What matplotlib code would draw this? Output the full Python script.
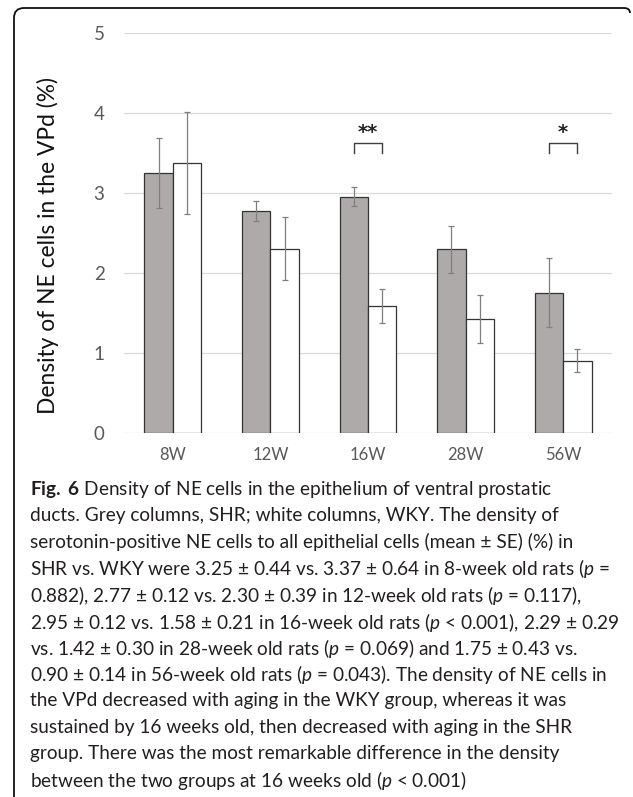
import matplotlib
matplotlib.use('Agg')
import matplotlib.pyplot as plt
from matplotlib import font_manager
from matplotlib.path import Path
from matplotlib.patches import PathPatch
import numpy as np

# data (mean +/- SE, % NE cells)
ages = ["8W", "12W", "16W", "28W", "56W"]
shr_mean = [3.25, 2.77, 2.95, 2.29, 1.75]
shr_se = [0.44, 0.12, 0.12, 0.29, 0.43]
wky_mean = [3.37, 2.30, 1.58, 1.42, 0.90]
wky_se = [0.64, 0.39, 0.21, 0.30, 0.14]
sig_groups = [2, 4]
sig_marks = ["**", "*"]

caption_lines = [
    r"$\mathbf{Fig.}$ $\mathbf{6}$ Density of NE cells in the epithelium of ventral prostatic",
    "ducts. Grey columns, SHR; white columns, WKY. The density of",
    "serotonin-positive NE cells to all epithelial cells (mean ± SE) (%) in",
    r"SHR vs. WKY were 3.25 ± 0.44 vs. 3.37 ± 0.64 in 8-week old rats ($\it{p}$ =",
    r"0.882), 2.77 ± 0.12 vs. 2.30 ± 0.39 in 12-week old rats ($\it{p}$ = 0.117),",
    r"2.95 ± 0.12 vs. 1.58 ± 0.21 in 16-week old rats ($\it{p}$ < 0.001), 2.29 ± 0.29",
    r"vs. 1.42 ± 0.30 in 28-week old rats ($\it{p}$ = 0.069) and 1.75 ± 0.43 vs.",
    r"0.90 ± 0.14 in 56-week old rats ($\it{p}$ = 0.043). The density of NE cells in",
    "the VPd decreased with aging in the WKY group, whereas it was",
    "sustained by 16 weeks old, then decreased with aging in the SHR",
    "group. There was the most remarkable difference in the density",
    r"between the two groups at 16 weeks old ($\it{p}$ < 0.001)",
]

names = {f.name for f in font_manager.fontManager.ttflist}
cap_font = 'Liberation Sans Narrow' if 'Liberation Sans Narrow' in names else 'Lato'
chart_font = 'Lato'

plt.rcParams['mathtext.fontset'] = 'custom'
plt.rcParams['mathtext.rm'] = cap_font
plt.rcParams['mathtext.it'] = cap_font + ':italic'
plt.rcParams['mathtext.bf'] = 'Lato:bold'

W, H = 633, 797
fig = plt.figure(figsize=(W / 100, H / 100), dpi=100)

def fx(px):
    return px / W

def fy(py):
    return 1 - py / H

ax = fig.add_axes([fx(124), fy(432.7), fx(612) - fx(124), fy(32.7) - fy(432.7)])

x = np.arange(len(ages))
w = 0.29
err_kw = dict(ecolor='#7f7f7f', elinewidth=0.9, capsize=2, capthick=0.9)
ax.bar(x - w / 2, shr_mean, w, yerr=shr_se, color='#aeaaaa', edgecolor='#333333',
       linewidth=0.9, error_kw=err_kw, zorder=3)
ax.bar(x + w / 2, wky_mean, w, yerr=wky_se, color='white', edgecolor='#333333',
       linewidth=0.9, error_kw=err_kw, zorder=3)

# significance brackets
for g, m in zip(sig_groups, sig_marks):
    ax.plot([g - w / 2, g - w / 2, g + w / 2, g + w / 2], [3.50, 3.62, 3.62, 3.50],
            color='#404040', linewidth=1.0, zorder=4)
    ax.text(g, 3.63, m, ha='center', va='bottom', fontsize=14, family='DejaVu Sans',
            fontweight='bold', color='#222222')

ax.set_xlim(-0.5, len(ages) - 0.5)
ax.set_ylim(0, 5)
ax.set_yticks([0, 1, 2, 3, 4, 5])
ax.set_xticks(x)
ax.set_xticklabels(ages)
for s in ax.spines.values():
    s.set_visible(False)
ax.grid(axis='y', color='#d9d9d9', linewidth=0.9, zorder=0)
ax.tick_params(axis='y', length=0, pad=14, labelsize=13.5, labelcolor='#595959')
ax.tick_params(axis='x', length=0, pad=10, labelsize=12, labelcolor='#595959')
for lbl in ax.get_xticklabels() + ax.get_yticklabels():
    lbl.set_family(chart_font)

fig.text(fx(48), fy(245.5), "Density of NE cells in the VPd (%)", rotation=90,
         ha='center', va='center', fontsize=16.4, family=chart_font, color='#111111')

# caption, sized so the widest line spans the box
fig.canvas.draw()
r = fig.canvas.get_renderer()
probe = fig.text(0, 0, caption_lines[7], fontsize=10, family=cap_font)
wpx = probe.get_window_extent(r).width
probe.remove()
cap_size = 10 * 578 / wpx
for i, line in enumerate(caption_lines):
    fig.text(fx(30), fy(487 + 26.5 * i), line, ha='left', va='center_baseline',
             fontsize=cap_size, family=cap_font, color='#231f20')

# rounded border (top + left only)
rr = 10
verts = [(fx(14), fy(797)), (fx(14), fy(8 + rr)), (fx(14), fy(8)), (fx(14 + rr), fy(8)),
         (fx(624), fy(8)), (fx(630), fy(8)), (fx(630), fy(13))]
codes = [Path.MOVETO, Path.LINETO, Path.CURVE3, Path.CURVE3, Path.LINETO,
         Path.CURVE3, Path.CURVE3]
fig.add_artist(PathPatch(Path(verts, codes), transform=fig.transFigure,
                         fill=False, edgecolor='#111111', linewidth=1.3))

fig.savefig("out.png", dpi=100)
